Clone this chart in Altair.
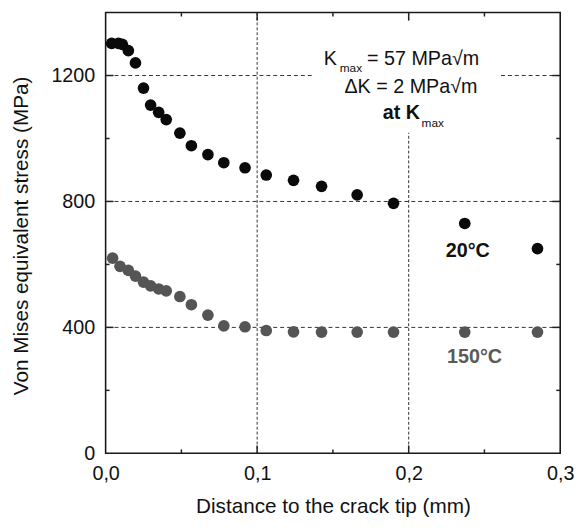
import altair as alt
import pandas as pd

# ---------------- data ----------------
x_20 = [0.004, 0.0085, 0.011, 0.015, 0.0197, 0.025, 0.0297, 0.035, 0.040, 0.049, 0.0566,
        0.0675, 0.078, 0.092, 0.106, 0.124, 0.1425, 0.166, 0.19, 0.237, 0.285]
y_20 = [1302, 1302, 1299, 1279, 1240, 1160, 1106, 1083, 1060, 1017, 977,
        949, 923, 907, 884, 867, 848, 821, 794, 730, 650]

x_150 = [0.0046, 0.0095, 0.015, 0.0197, 0.025, 0.0297, 0.035, 0.040, 0.049, 0.0566,
         0.0675, 0.078, 0.092, 0.106, 0.124, 0.1425, 0.166, 0.19, 0.237, 0.285]
y_150 = [620, 594, 581, 563, 544, 532, 522, 516, 498, 472,
         439, 405, 402, 390, 386, 385, 385, 385, 385, 385]

x_tick_labels = [0.0, 0.1, 0.2, 0.3]
y_tick_labels = [0, 400, 800, 1200]
x_major = [0.1, 0.2]
x_minor = [0.05, 0.15, 0.25]
y_major = [400, 800, 1200]
y_minor = [200, 600, 1000]

# annotation texts and anchors (data coordinates)
ann_text = ["K", "= 57 MPa\u221am", "\u0394K = 2 MPa\u221am"]
ann_x = [0.1440, 0.1725, 0.2015]
ann_y = [1234, 1234, 1145]
ann_align = ["left", "left", "center"]
sub_text = ["max", "max"]
sub_x = [0.1545, 0.2085]
sub_y = [1210, 1038]
bold_text = ["at K", "20\u00b0C"]
bold_x = [0.2075, 0.2390]
bold_y = [1063, 622]
bold_align = ["right", "center"]
gray_text = ["150\u00b0C"]
gray_x = [0.2435]
gray_y = [288]
box_x = [0.1366]
box_x2 = [0.2600]
box_y = [1018]
box_y2 = [1372]

W, H = 461, 447
FONT = "Liberation Sans"

pts = pd.DataFrame({
    "x": x_20 + x_150,
    "y": y_20 + y_150,
    "T": ["20\u00b0C"] * len(x_20) + ["150\u00b0C"] * len(x_150),
})

xs = alt.Scale(domain=[0, 0.3], nice=False, zero=False)
ys = alt.Scale(domain=[0, 1400], nice=False)

base_x_axis = alt.Axis(
    values=x_tick_labels, labelExpr="replace(format(datum.value, '.1f'), '.', ',')",
    labelFontSize=20, labelFont=FONT, labelColor="#111", labelPadding=11,
    ticks=False, tickSize=0, domain=False, grid=False, labelFlush=False,
    title="Distance to the crack tip (mm)", titleFontSize=21, titleFont=FONT,
    titleFontWeight="normal", titleColor="#111", titleBaseline="alphabetic", titleY=60,
)
base_y_axis = alt.Axis(
    values=y_tick_labels, format="d", labelFontSize=20, labelFont=FONT, labelColor="#111",
    labelPadding=11, ticks=False, tickSize=0, domain=False, grid=False,
    title="Von Mises equivalent stress (MPa)", titleFontSize=21, titleFont=FONT,
    titleFontWeight="normal", titleColor="#111", titleBaseline="alphabetic",
    titleX=-79, titleY=226, titleAngle=-90,
)

points = alt.Chart(pts).mark_circle(size=140, opacity=1).encode(
    x=alt.X("x:Q", scale=xs, axis=base_x_axis),
    y=alt.Y("y:Q", scale=ys, axis=base_y_axis),
    color=alt.Color("T:N", scale=alt.Scale(domain=["20\u00b0C", "150\u00b0C"],
                                            range=["#0a0a0a", "#555555"]), legend=None),
)

hgrid = alt.Chart(pd.DataFrame({"v": y_major})).mark_rule(
    color="#333", strokeWidth=1, strokeDash=[4, 3]).encode(y=alt.Y("v:Q", scale=ys))
vgrid = alt.Chart(pd.DataFrame({"v": x_major})).mark_rule(
    color="#333", strokeWidth=1, strokeDash=[3, 2]).encode(x=alt.X("v:Q", scale=xs))

box = alt.Chart(pd.DataFrame({"x": box_x, "x2": box_x2, "y": box_y, "y2": box_y2})).mark_rect(
    color="white").encode(x=alt.X("x:Q", scale=xs), x2="x2:Q", y=alt.Y("y:Q", scale=ys), y2="y2:Q")

def text_layer(texts, xv, yv, aligns, size, weight, color):
    df = pd.DataFrame({"t": texts, "x": xv, "y": yv, "a": aligns})
    layers = []
    for a in sorted(set(aligns)):
        layers.append(alt.Chart(df).transform_filter(alt.datum.a == a).mark_text(
            align=a, baseline="alphabetic", fontSize=size, fontWeight=weight,
            font=FONT, color=color).encode(
            x=alt.X("x:Q", scale=xs), y=alt.Y("y:Q", scale=ys), text="t:N"))
    return layers

t_main = text_layer(ann_text, ann_x, ann_y, ann_align, 20, "normal", "#111")
t_sub = text_layer(sub_text, sub_x, sub_y, ["left", "left"], 12, "normal", "#111")
t_bold = text_layer(bold_text, bold_x, bold_y, bold_align, 20, "bold", "#111")
t_gray = text_layer(gray_text, gray_x, gray_y, ["center"], 20, "bold", "#5a5a5a")

TK = "#222"
def xticks(vals, length):
    df = pd.DataFrame({"v": vals})
    b = alt.Chart(df).mark_rule(color=TK, strokeWidth=1.5)
    return [
        b.encode(x=alt.X("v:Q", scale=xs), y=alt.value(H), y2=alt.value(H - length)),
        b.encode(x=alt.X("v:Q", scale=xs), y=alt.value(0), y2=alt.value(length)),
    ]

def yticks(vals, length):
    df = pd.DataFrame({"v": vals})
    b = alt.Chart(df).mark_rule(color=TK, strokeWidth=1.5)
    return [
        b.encode(y=alt.Y("v:Q", scale=ys), x=alt.value(0), x2=alt.value(length)),
        b.encode(y=alt.Y("v:Q", scale=ys), x=alt.value(W), x2=alt.value(W - length)),
    ]

ticks = xticks(x_major, 8) + xticks(x_minor, 4) + yticks(y_major, 8) + yticks(y_minor, 4)

chart = alt.layer(
    hgrid, vgrid, box, points, *t_main, *t_sub, *t_bold, *t_gray, *ticks,
).properties(
    width=W, height=H,
    autosize=alt.AutoSizeParams(type="none"),
    padding={"left": 99, "top": 1, "right": 15, "bottom": 64},
    background="white",
).configure_view(stroke="#1a1a1a", strokeWidth=1.6)

chart.save("out.html", embed_options={"renderer": "svg", "actions": False})
